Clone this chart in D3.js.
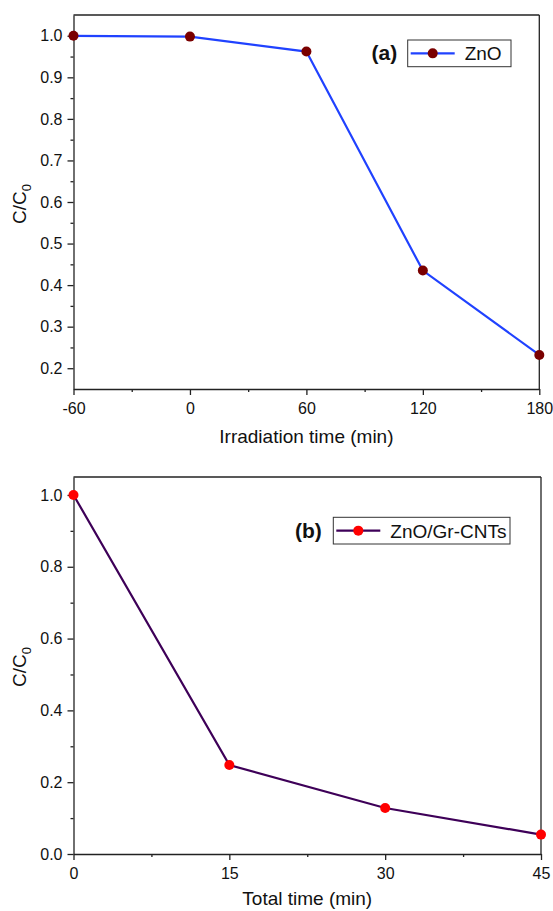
<!DOCTYPE html>
<html>
<head>
<meta charset="utf-8">
<script src="https://cdn.jsdelivr.net/npm/d3@7"></script>
<style>
  html, body { margin: 0; padding: 0; background: #fff; }
  svg { display: block; font-family: "Liberation Sans", Arial, sans-serif; }
</style>
</head>
<body>
<svg id="chart" width="553" height="911"></svg>
<script>
// ---- Data ----
const timeA = [-60, 0, 60, 120, 180];
const valuesA = [1.0, 0.998, 0.962, 0.435, 0.232];
const xTicksA = [-60, 0, 60, 120, 180];
const xMinorA = [-30, 30, 90, 150];
const yTicksA = [0.2, 0.3, 0.4, 0.5, 0.6, 0.7, 0.8, 0.9, 1.0];
const yMinorA = [0.25, 0.35, 0.45, 0.55, 0.65, 0.75, 0.85, 0.95];

const timeB = [0, 15, 30, 45];
const valuesB = [1.0, 0.248, 0.128, 0.054];
const xTicksB = [0, 15, 30, 45];
const xMinorB = [7.5, 22.5, 37.5];
const yTicksB = [0.0, 0.2, 0.4, 0.6, 0.8, 1.0];
const yMinorB = [0.1, 0.3, 0.5, 0.7, 0.9];

const svg = d3.select("#chart");
const axisColor = "#222";

function panel(cfg) {
  const x = d3.scaleLinear().domain(cfg.xDomain).range([cfg.left, cfg.right]);
  const y = d3.scaleLinear().domain(cfg.yDomain).range([cfg.bottom, cfg.top]);
  const g = svg.append("g");

  // frame top and right
  g.append("line").attr("x1", cfg.left).attr("x2", cfg.right).attr("y1", cfg.top).attr("y2", cfg.top)
    .attr("stroke", axisColor).attr("stroke-width", 1.3);
  g.append("line").attr("x1", cfg.right).attr("x2", cfg.right).attr("y1", cfg.top).attr("y2", cfg.bottom)
    .attr("stroke", axisColor).attr("stroke-width", 1.3);

  // minor ticks
  g.append("g").attr("transform", `translate(0,${cfg.bottom})`)
    .call(d3.axisBottom(x).tickValues(cfg.xMinor).tickSize(3).tickFormat(""))
    .call(s => s.select(".domain").remove());
  g.append("g").attr("transform", `translate(${cfg.left},0)`)
    .call(d3.axisLeft(y).tickValues(cfg.yMinor).tickSize(3).tickFormat(""))
    .call(s => s.select(".domain").remove());

  // major axes
  const xa = g.append("g").attr("transform", `translate(0,${cfg.bottom})`)
    .call(d3.axisBottom(x).tickValues(cfg.xTicks).tickSize(6).tickPadding(8).tickSizeOuter(0)
      .tickFormat(d => String(d)));
  const ya = g.append("g").attr("transform", `translate(${cfg.left},0)`)
    .call(d3.axisLeft(y).tickValues(cfg.yTicks).tickSize(6).tickPadding(5).tickSizeOuter(0)
      .tickFormat(d => d.toFixed(1)));
  [xa, ya].forEach(a => {
    a.selectAll("path, line").attr("stroke", axisColor).attr("stroke-width", 1.3);
    a.selectAll("text").attr("fill", "#111").style("font-size", "16px")
      .style("font-family", '"Liberation Sans", Arial, sans-serif');
  });
  g.selectAll(".tick line").attr("stroke", axisColor).attr("stroke-width", 1.3);

  // axis titles
  g.append("text").attr("x", (cfg.left + cfg.right) / 2).attr("y", cfg.xTitleY)
    .attr("text-anchor", "middle").style("font-size", "19px").attr("fill", "#111")
    .text(cfg.xTitle);
  const yt = g.append("text").attr("transform", `translate(26,${cfg.yTitleCY}) rotate(-90)`)
    .attr("text-anchor", "middle").style("font-size", "19px").attr("fill", "#111");
  yt.append("tspan").text("C/C");
  yt.append("tspan").attr("dy", 5).style("font-size", "13px").text("0");

  // line + markers
  const pts = cfg.xs.map((d, i) => [d, cfg.ys[i]]);
  g.append("path").datum(pts)
    .attr("d", d3.line().x(d => x(d[0])).y(d => y(d[1])))
    .attr("fill", "none").attr("stroke", cfg.lineColor).attr("stroke-width", 2.2);
  g.selectAll("circle.pt").data(pts).enter().append("circle")
    .attr("cx", d => x(d[0])).attr("cy", d => y(d[1])).attr("r", 5)
    .attr("fill", cfg.markerColor);

  // legend
  const L = cfg.legend;
  g.append("text").attr("x", L.labelX).attr("y", L.y + L.h / 2 + 7)
    .style("font-size", "21px").style("font-weight", "bold").attr("fill", "#111")
    .text(L.label);
  g.append("rect").attr("x", L.x).attr("y", L.y).attr("width", L.w).attr("height", L.h)
    .attr("fill", "#fff").attr("stroke", "#333").attr("stroke-width", 1);
  const ly = L.y + L.h / 2;
  g.append("line").attr("x1", L.x + 3).attr("x2", L.x + 47).attr("y1", ly).attr("y2", ly)
    .attr("stroke", cfg.lineColor).attr("stroke-width", 2.2);
  g.append("circle").attr("cx", L.x + 25).attr("cy", ly).attr("r", 5).attr("fill", cfg.markerColor);
  g.append("text").attr("x", L.x + 57).attr("y", ly + 7)
    .style("font-size", "19px").attr("fill", "#111").text(L.name);
}

panel({
  xs: timeA, ys: valuesA,
  xDomain: [-60, 180], yDomain: [0.15, 1.05],
  left: 73.5, right: 539.3, top: 15, bottom: 389,
  xTicks: xTicksA, xMinor: xMinorA, yTicks: yTicksA, yMinor: yMinorA,
  xTitle: "Irradiation time (min)", xTitleY: 443, yTitleCY: 204,
  lineColor: "#2042ff", markerColor: "#7a0000",
  legend: { x: 407.7, y: 40, w: 103.3, h: 26.7, labelX: 371.5, label: "(a)", name: "ZnO" }
});

panel({
  xs: timeB, ys: valuesB,
  xDomain: [0, 45], yDomain: [0, 1.05],
  left: 73.5, right: 541, top: 477, bottom: 854,
  xTicks: xTicksB, xMinor: xMinorB, yTicks: yTicksB, yMinor: yMinorB,
  xTitle: "Total time (min)", xTitleY: 905, yTitleCY: 667,
  lineColor: "#3e0058", markerColor: "#ff0000",
  legend: { x: 333.3, y: 517.3, w: 176.7, h: 26.7, labelX: 295, label: "(b)", name: "ZnO/Gr-CNTs" }
});
</script>
</body>
</html>
